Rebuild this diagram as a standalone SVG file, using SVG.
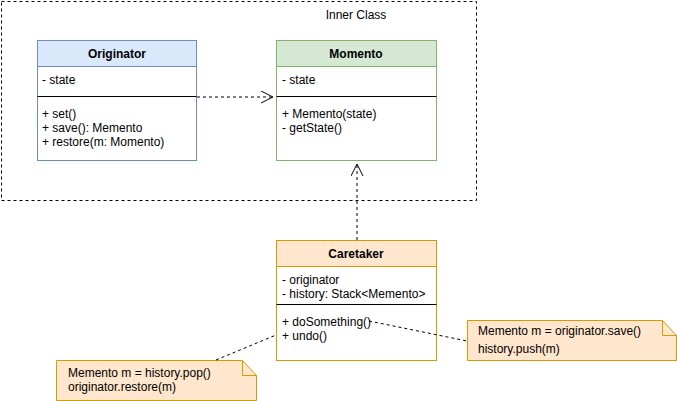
<svg xmlns="http://www.w3.org/2000/svg" width="677" height="401" viewBox="0 0 677 401">
<style>
text{font-family:"Liberation Sans",Arial,sans-serif;font-size:12px;fill:#000}
.t{font-weight:bold;font-size:12px;text-anchor:middle}
.ln{stroke:#000;stroke-width:1;fill:none}
.dash{stroke:#000;stroke-width:1;fill:none;stroke-dasharray:3,3}
</style>
<defs>
<marker id="open" markerWidth="14" markerHeight="14" refX="12" refY="6" orient="auto" markerUnits="userSpaceOnUse">
<path d="M0,0 L12,6 L0,12" fill="none" stroke="#000" stroke-width="1"/>
</marker>
</defs>
<rect width="677" height="401" fill="#fff"/>
<g id="inner-class">
<rect x="1.5" y="1.5" width="475" height="199" fill="none" stroke="#000" stroke-dasharray="3,3"/>
<text x="356" y="19" text-anchor="middle">Inner Class</text>
</g>
<g id="originator">
<rect x="37.5" y="40.5" width="159" height="120" fill="#fff" stroke="#6c8ebf"/>
<rect x="37.5" y="40.5" width="159" height="26" fill="#dae8fc" stroke="#6c8ebf"/>
<text class="t" x="117" y="58">Originator</text>
<text x="42" y="84">- state</text>
<line class="ln" x1="37.5" y1="96.5" x2="196.5" y2="96.5"/>
<text x="42" y="118">+ set()</text>
<text x="42" y="132">+ save(): Memento</text>
<text x="42" y="146">+ restore(m: Momento)</text>
</g>
<g id="momento">
<rect x="276.5" y="40.5" width="160" height="120" fill="#fff" stroke="#82b366"/>
<rect x="276.5" y="40.5" width="160" height="26" fill="#d5e8d4" stroke="#82b366"/>
<text class="t" x="356" y="58">Momento</text>
<text x="282" y="84">- state</text>
<line class="ln" x1="276.5" y1="96.5" x2="436.5" y2="96.5"/>
<text x="282" y="118">+ Memento(state)</text>
<text x="282" y="132">- getState()</text>
</g>
<g id="caretaker">
<rect x="276.5" y="240.5" width="160" height="120" fill="#fff" stroke="#d79b00"/>
<rect x="276.5" y="240.5" width="160" height="26" fill="#ffe6cc" stroke="#d79b00"/>
<text class="t" x="356" y="258">Caretaker</text>
<text x="282" y="284">- originator</text>
<text x="282" y="298">- history: Stack&lt;Memento&gt;</text>
<line class="ln" x1="276.5" y1="304.5" x2="436.5" y2="304.5"/>
<text x="282" y="326">+ doSomething()</text>
<text x="282" y="340">+ undo()</text>
</g>
<g id="note-undo">
<path d="M56.5,360.5 H242.5 L256.5,375.5 V400.5 H56.5 Z" fill="#ffe6cc" stroke="#d79b00"/>
<path d="M242.5,360.5 V375.5 H256.5" fill="none" stroke="#d79b00"/>
<text x="68" y="377">Memento m = history.pop()</text>
<text x="68" y="391">originator.restore(m)</text>
</g>
<g id="note-do">
<path d="M467.5,320.5 H662.5 L676.5,335.5 V360.5 H467.5 Z" fill="#ffe6cc" stroke="#d79b00"/>
<path d="M662.5,320.5 V335.5 H676.5" fill="none" stroke="#d79b00"/>
<text x="478" y="335">Memento m = originator.save()</text>
<text x="478" y="353">history.push(m)</text>
</g>
<g id="connectors">
<line class="dash" x1="197" y1="97" x2="273" y2="97" marker-end="url(#open)"/>
<line class="dash" x1="357" y1="240" x2="357" y2="164" marker-end="url(#open)"/>
<line class="dash" x1="216" y1="360" x2="276" y2="335"/>
<line class="dash" x1="369" y1="321" x2="467" y2="341"/>
</g>
</svg>
